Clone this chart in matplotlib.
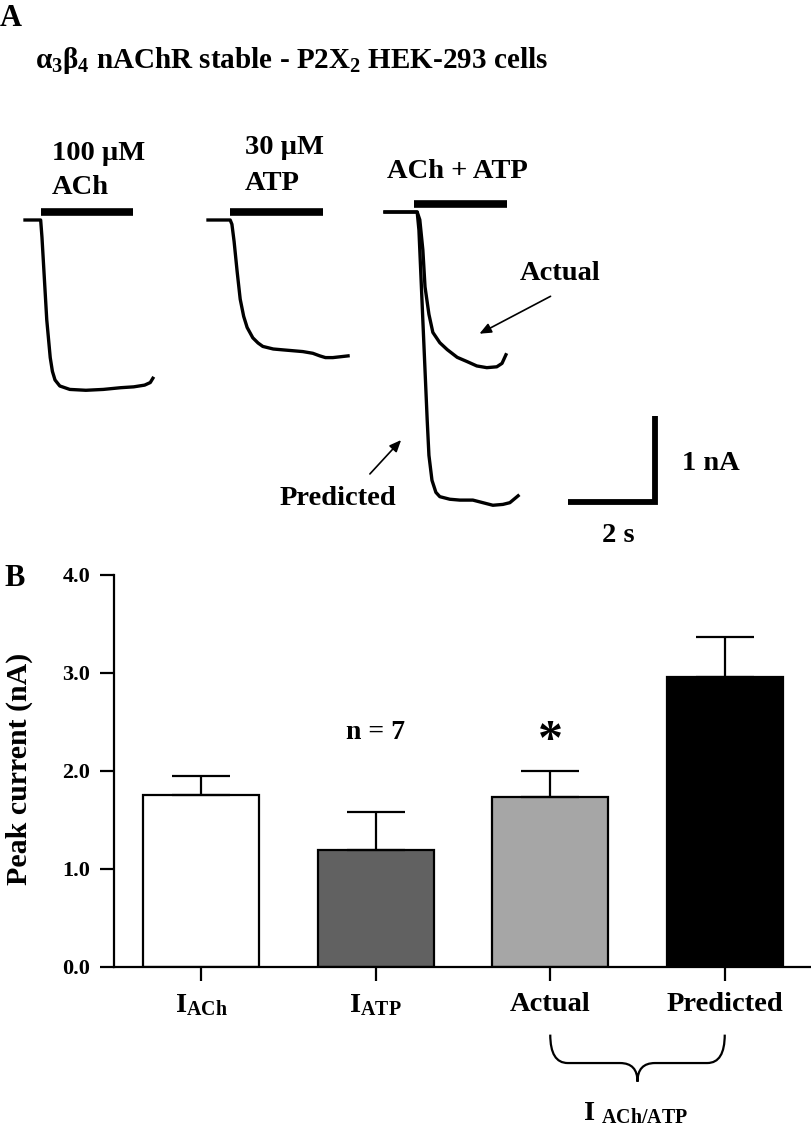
import numpy as np
import matplotlib.pyplot as plt
from matplotlib.path import Path
from matplotlib.patches import PathPatch

FIG_W, FIG_H = 812, 1130
DPI = 100

# ---- panel A: representative current traces (time in s, current in nA)
ACH_T = [0, 0.36, 0.39, 0.50, 0.58, 0.63, 0.69, 0.80, 1.03, 1.4, 1.8, 2.2, 2.5, 2.75, 2.88, 2.94]
ACH_I = [0, 0, -0.2, -1.16, -1.6, -1.76, -1.86, -1.93, -1.97, -1.98, -1.97, -1.95, -1.94, -1.92, -1.89, -1.84]

ATP_T = [0, 0.51, 0.55, 0.60, 0.67, 0.74, 0.82, 0.90, 1.03, 1.15, 1.26, 1.50, 1.72, 2.18, 2.41, 2.57, 2.70, 2.87, 3.22]
ATP_I = [0, 0, -0.05, -0.25, -0.60, -0.92, -1.12, -1.25, -1.37, -1.43, -1.47, -1.50, -1.51, -1.53, -1.55, -1.58, -1.60, -1.60, -1.58]

ACTUAL_T = [0, 0.74, 0.80, 0.87, 0.92, 1.01, 1.10, 1.26, 1.43, 1.66, 1.89, 2.11, 2.34, 2.57, 2.69, 2.78]
ACTUAL_I = [0, 0, -0.09, -0.44, -0.87, -1.19, -1.40, -1.52, -1.60, -1.69, -1.74, -1.79, -1.81, -1.80, -1.76, -1.66]

PRED_T = [0, 0.74, 0.78, 0.83, 0.87, 0.92, 0.97, 1.01, 1.08, 1.17, 1.26, 1.49, 1.72, 2.02, 2.25, 2.48, 2.71, 2.87, 3.06]
PRED_I = [0, 0, -0.21, -0.79, -1.26, -1.84, -2.42, -2.83, -3.12, -3.26, -3.31, -3.34, -3.35, -3.35, -3.38, -3.41, -3.40, -3.38, -3.30]

# drug application (start, stop) in s from trace onset
APPLICATIONS = [(0.37, 2.48), (0.51, 2.64), (0.67, 2.80)]
APP_LABELS = [["100 \u00b5M", "ACh"], ["30 \u00b5M", "ATP"], ["ACh + ATP"]]

# ---- panel B: peak currents
CONDITIONS = ["I$_{ACh}$", "I$_{ATP}$", "Actual", "Predicted"]
PEAK_CURRENT = [1.76, 1.19, 1.73, 2.96]
SEM = [0.19, 0.39, 0.27, 0.41]
BAR_COLORS = ["white", "#616161", "#a6a6a6", "black"]

# layout of panel A (pixels per unit)
PX_PER_S = 43.5
PX_PER_NA = 86.0
TRACE_ONSET = [25 / PX_PER_S, 208 / PX_PER_S, 385 / PX_PER_S]
TRACE_BASE = [0.0, 0.0, 0.093]
LABEL_POS = [(52, [153, 187]), (245, [148, 183]), (387, [172])]


def fx(px):
    return px / FIG_W


def fy(py):
    return 1 - py / FIG_H


def panel_a(fig):
    ax = fig.add_axes([0, fy(560), 1, 460 / FIG_H])
    ax.set_xlim(0, FIG_W / PX_PER_S)
    ax.set_ylim(-(560 - 220) / PX_PER_NA, (220 - 100) / PX_PER_NA)
    ax.axis("off")

    traces = [(0, ACH_T, ACH_I), (1, ATP_T, ATP_I), (2, ACTUAL_T, ACTUAL_I), (2, PRED_T, PRED_I)]
    for k, t, i in traces:
        ax.plot(np.array(t) + TRACE_ONSET[k], np.array(i) + TRACE_BASE[k],
                color="black", lw=2.4, solid_joinstyle="round")

    for k, (t0, t1) in enumerate(APPLICATIONS):
        y = TRACE_BASE[k] + 0.09
        ax.plot([TRACE_ONSET[k] + t0, TRACE_ONSET[k] + t1], [y, y],
                color="black", lw=5.5, solid_capstyle="butt")

    # scale bar: 2 s, 1 nA
    sx, sy = 13.06, -3.28
    ax.plot([sx, sx + 2, sx + 2], [sy, sy, sy + 1], color="black", lw=4.2,
            solid_capstyle="butt", solid_joinstyle="miter")

    fs = 20.5
    fig.text(fx(0), fy(18), "A", fontsize=22, va="center", ha="left")
    fig.text(fx(35), fy(68), r"$\alpha_3\beta_4$ nAChR stable - P2X$_2$ HEK-293 cells",
             fontsize=21, va="baseline", ha="left")
    for lines, (px, pys) in zip(APP_LABELS, LABEL_POS):
        for line, py in zip(lines, pys):
            fig.text(fx(px), fy(py), line, fontsize=fs, ha="left", va="center")
    fig.text(fx(520), fy(273), "Actual", fontsize=fs, ha="left", va="center")
    fig.text(fx(280), fy(498), "Predicted", fontsize=fs, ha="left", va="center")
    fig.text(fx(682), fy(463), "1 nA", fontsize=fs, ha="left", va="center")
    fig.text(fx(602), fy(536), "2 s", fontsize=fs, ha="left", va="center")

    arrow = dict(arrowstyle="-|>,head_length=0.7,head_width=0.3", color="black", lw=1.2)
    ax.annotate("", xy=(fx(477), fy(335)), xytext=(fx(553), fy(295)),
                xycoords="figure fraction", textcoords="figure fraction", arrowprops=arrow)
    ax.annotate("", xy=(fx(403), fy(438)), xytext=(fx(368), fy(476)),
                xycoords="figure fraction", textcoords="figure fraction", arrowprops=arrow)


def draw_brace(ax, x0, x1, ytop, ymid, ybot, r=0.1):
    xm = (x0 + x1) / 2
    verts = [(x0, ytop), (x0, ymid), (x0 + r, ymid),
             (xm - r, ymid),
             (xm, ymid), (xm, ybot),
             (xm, ymid), (xm + r, ymid),
             (x1 - r, ymid),
             (x1, ymid), (x1, ytop)]
    codes = [Path.MOVETO, Path.CURVE3, Path.CURVE3,
             Path.LINETO,
             Path.CURVE3, Path.CURVE3,
             Path.CURVE3, Path.CURVE3,
             Path.LINETO,
             Path.CURVE3, Path.CURVE3]
    patch = PathPatch(Path(verts, codes), facecolor="none", edgecolor="black",
                      lw=1.6, clip_on=False)
    ax.add_patch(patch)


def panel_b(fig):
    ax = fig.add_axes([fx(114), fy(967), (FIG_W - 114) / FIG_W, (967 - 575) / FIG_H])
    x = np.arange(len(CONDITIONS))
    ax.bar(x, PEAK_CURRENT, width=0.667, color=BAR_COLORS, edgecolor="black", linewidth=1.6, zorder=2)
    ax.errorbar(x, PEAK_CURRENT, yerr=[np.zeros(len(SEM)), SEM], fmt="none", ecolor="black",
                elinewidth=1.6, capsize=21, capthick=1.6, zorder=3)

    ax.set_xlim(-0.5, 3.5)
    ax.set_ylim(0, 4.0)
    ax.set_yticks([0, 1, 2, 3, 4])
    ax.set_yticklabels([f"{v:.1f}" for v in [0, 1, 2, 3, 4]], fontsize=16)
    ax.set_xticks(x)
    ax.set_xticklabels(CONDITIONS, fontsize=20.5)
    ax.tick_params(axis="both", direction="out", length=10, width=1.6)
    ax.tick_params(axis="y", pad=7)
    ax.tick_params(axis="x", pad=8)
    for side in ["top", "right"]:
        ax.spines[side].set_visible(False)
    for side in ["left", "bottom"]:
        ax.spines[side].set_linewidth(1.6)

    ax.set_ylabel("Peak current (nA)", fontsize=21.5)
    ax.yaxis.set_label_coords(-0.116, 0.505)

    ax.text(1, 2.39, "n = 7", fontsize=20, ha="center", va="center")
    ax.text(2, 2.3, "*", fontsize=36, ha="center", va="center")

    draw_brace(ax, 2, 3, -0.69, -0.98, -1.17)
    ax.text(2.49, -1.49, "I $_{ACh/ATP}$", fontsize=20.5, ha="center", va="center")

    fig.text(fx(4), fy(578), "B", fontsize=22, va="center", ha="left")


def main():
    plt.rcParams.update({
        "font.family": ["Liberation Serif", "DejaVu Serif"],
        "font.weight": "bold",
        "mathtext.default": "regular",
        "axes.labelweight": "bold",
    })
    fig = plt.figure(figsize=(FIG_W / DPI, FIG_H / DPI), dpi=DPI)
    panel_a(fig)
    panel_b(fig)
    fig.savefig("out.png", dpi=DPI)
    plt.close(fig)


if __name__ == "__main__":
    main()
